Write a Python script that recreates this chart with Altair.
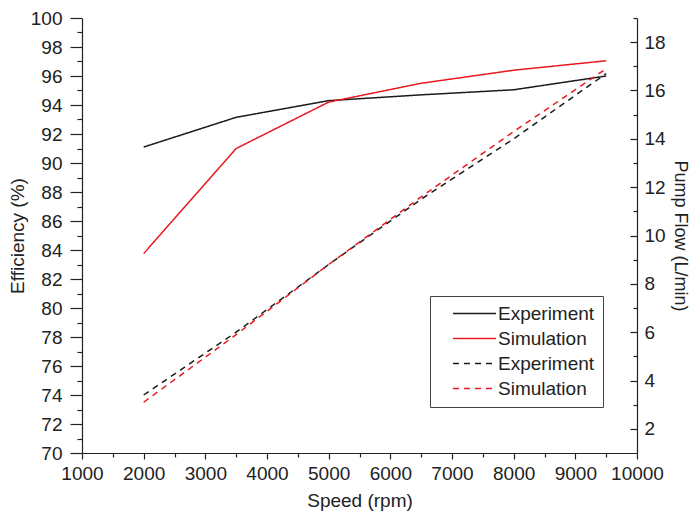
import altair as alt
import pandas as pd

speed = [2000, 3500, 5000, 6500, 8000, 9500]
eff_experiment = [91.1, 93.15, 94.3, 94.7, 95.05, 96.0]
eff_simulation = [83.75, 91.0, 94.2, 95.5, 96.4, 97.05]
flow_experiment = [3.4, 6.0, 8.8, 11.5, 14.0, 16.7]
flow_simulation = [3.1, 5.9, 8.8, 11.6, 14.3, 16.9]

series_names = ["Experiment", "Simulation", "Experiment ", "Simulation "]
series_colors = ["#1a1a1a", "#e8191e", "#1a1a1a", "#e8191e"]
series_dash = [[1, 0], [1, 0], [6, 5], [6, 5]]

x_major = list(range(1000, 10001, 1000))
x_minor = list(range(1500, 10000, 1000))
eff_major = list(range(70, 101, 2))
eff_minor = list(range(71, 100, 2))
flow_major = list(range(2, 19, 2))
flow_minor = list(range(3, 20, 2))

eff_df = pd.DataFrame({
    "speed": speed * 2,
    "value": eff_experiment + eff_simulation,
    "series": [series_names[0]] * len(speed) + [series_names[1]] * len(speed),
})
flow_df = pd.DataFrame({
    "speed": speed * 2,
    "value": flow_experiment + flow_simulation,
    "series": [series_names[2]] * len(speed) + [series_names[3]] * len(speed),
})

W, H = 555, 435
FONT = "Liberation Sans"
INK = "#222222"

x_scale = alt.Scale(domain=[1000, 10000], nice=False, zero=False)
eff_scale = alt.Scale(domain=[70, 100], nice=False, zero=False)
flow_scale = alt.Scale(domain=[1, 19], nice=False, zero=False)

color = alt.Color("series:N", scale=alt.Scale(domain=series_names, range=series_colors),
                  legend=alt.Legend(title=None))
dash = alt.StrokeDash("series:N", scale=alt.Scale(domain=series_names, range=series_dash),
                      legend=alt.Legend(title=None))

eff_layer = alt.Chart(eff_df).mark_line(strokeWidth=1.5).encode(
    x=alt.X("speed:Q", scale=x_scale, axis=alt.Axis(
        orient="bottom", values=x_major, tickSize=6, labelPadding=5, labelFlush=False,
        labelOverlap=False, title="Speed (rpm)", titlePadding=8, format="d")),
    y=alt.Y("value:Q", scale=eff_scale, axis=alt.Axis(
        orient="left", values=eff_major, tickSize=12, labelPadding=8, labelFlush=False,
        labelOverlap=False, title="Efficiency (%)", titlePadding=3)),
    color=color, strokeDash=dash,
)

flow_layer = alt.Chart(flow_df).mark_line(strokeWidth=1.5).encode(
    x=alt.X("speed:Q", scale=x_scale, axis=None),
    y=alt.Y("value:Q", scale=flow_scale, axis=alt.Axis(
        orient="right", values=flow_major, ticks=False, tickSize=0, labelPadding=7,
        labelFlush=False, labelOverlap=False, title="Pump Flow (L/min)", titlePadding=5,
        titleFontSize=18)),
    color=color, strokeDash=dash,
)

minor_left = alt.Chart(eff_df).mark_line(strokeOpacity=0).encode(
    x=alt.X("speed:Q", scale=x_scale, axis=alt.Axis(
        orient="bottom", values=x_minor, tickSize=4, labels=False, domain=False, title=None)),
    y=alt.Y("value:Q", scale=eff_scale, axis=alt.Axis(
        orient="left", values=eff_minor, tickSize=5, labels=False, domain=False, title=None)),
    detail="series:N",
)

right_major_ticks = alt.Chart(flow_df).mark_line(strokeOpacity=0).encode(
    x=alt.X("speed:Q", scale=x_scale, axis=None),
    y=alt.Y("value:Q", scale=flow_scale, axis=alt.Axis(
        orient="left", offset=-W, values=flow_major, tickSize=7, labels=False,
        domain=False, title=None)),
    detail="series:N",
)

right_minor_ticks = alt.Chart(flow_df).mark_line(strokeOpacity=0).encode(
    x=alt.X("speed:Q", scale=x_scale, axis=None),
    y=alt.Y("value:Q", scale=flow_scale, axis=alt.Axis(
        orient="left", offset=-W, values=flow_minor, tickSize=4, labels=False,
        domain=False, title=None)),
    detail="series:N",
)

chart = alt.layer(
    minor_left, right_major_ticks, right_minor_ticks, eff_layer, flow_layer
).resolve_scale(
    y="independent"
).resolve_axis(
    x="independent", y="independent"
).properties(
    width=W, height=H,
    autosize=alt.AutoSizeParams(type="none"),
    padding={"left": 74, "top": 10, "right": 55, "bottom": 60},
).configure_view(
    stroke=None
).configure_axis(
    grid=False, labelFont=FONT, titleFont=FONT, labelFontSize=19, titleFontSize=19,
    titleFontWeight="normal", labelColor=INK, titleColor=INK, tickColor=INK,
    domainColor=INK, tickWidth=1.2, domainWidth=1.2,
).configure_legend(
    orient="none", legendX=348, legendY=278, strokeColor="#444444", fillColor="white",
    padding=8, symbolType="M-4,0H4", symbolSize=116, symbolStrokeWidth=1.5,
    symbolOffset=27, labelOffset=14, labelFont=FONT, labelFontSize=19, labelColor=INK,
    rowPadding=5, labelLimit=300,
)

chart.save("out.html", embed_options={"renderer": "svg", "actions": False})
